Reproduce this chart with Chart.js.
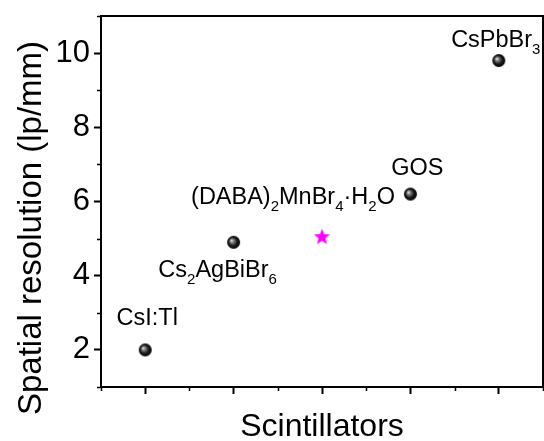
<!DOCTYPE html>
<html>
<head>
<meta charset="utf-8">
<script src="https://cdn.jsdelivr.net/npm/chart.js@4.4.1/dist/chart.umd.min.js"></script>
<style>
  html, body { margin: 0; padding: 0; background: #fff; }
</style>
</head>
<body>
<canvas id="resolution" width="544" height="441"></canvas>
<script>
// scintillators in plotting order; "_x" marks a one-character subscript
const scintillators = ['CsI:Tl', 'Cs_2AgBiBr_6', '(DABA)_2MnBr_4·H_2O', 'GOS', 'CsPbBr_3'];
const resolution = [2.0, 4.9, 5.05, 6.2, 9.8];
const thisWorkIndex = 2;

const yTicks = [2, 4, 6, 8, 10];
const yMinorTicks = [1, 3, 5, 7, 9, 11];
const xTicks = [1, 2, 3, 4, 5];
const xMinorTicks = [0.5, 1.5, 2.5, 3.5, 4.5, 5.5];

const xTitle = 'Scintillators';
const yTitle = 'Spatial resolution (lp/mm)';

// label placement around each marker: [centre x offset, baseline y offset] in px
const labelOffsets = [[2, -25], [-16, 35], [-29, -33], [7, -19], [-3, -14]];

const FAMILY = "'Liberation Sans', Arial, sans-serif";
const mainFont = `23.5px ${FAMILY}`;
const subFont = `15px ${FAMILY}`;

// shaded black ball marker
function makeSphere(r) {
  const c = document.createElement('canvas');
  const s = Math.ceil(r * 2) + 2;
  c.width = c.height = s;
  const g = c.getContext('2d');
  const cx = s / 2, cy = s / 2;
  const grad = g.createRadialGradient(cx - r * 0.35, cy - r * 0.3, 0, cx, cy, r);
  grad.addColorStop(0, '#f2f2f2');
  grad.addColorStop(0.3, '#7a7a7a');
  grad.addColorStop(0.65, '#1a1a1a');
  grad.addColorStop(1, '#000');
  g.fillStyle = grad;
  g.beginPath();
  g.arc(cx, cy, r, 0, Math.PI * 2);
  g.fill();
  return c;
}

// filled five-point star
function makeStar(outer, inner, color) {
  const c = document.createElement('canvas');
  const s = Math.ceil(outer * 2) + 2;
  c.width = c.height = s;
  const g = c.getContext('2d');
  g.fillStyle = color;
  g.beginPath();
  for (let k = 0; k < 10; k++) {
    const rad = k % 2 ? inner : outer;
    const a = -Math.PI / 2 + k * Math.PI / 5;
    const px = s / 2 + rad * Math.cos(a), py = s / 2 + 0.5 + rad * Math.sin(a);
    k ? g.lineTo(px, py) : g.moveTo(px, py);
  }
  g.closePath();
  g.fill();
  return c;
}

function splitSub(str) {
  const parts = [];
  let buf = '';
  for (let i = 0; i < str.length; i++) {
    if (str[i] === '_' && i + 1 < str.length) {
      if (buf) parts.push({ t: buf, sub: false });
      parts.push({ t: str[i + 1], sub: true });
      buf = '';
      i++;
    } else {
      buf += str[i];
    }
  }
  if (buf) parts.push({ t: buf, sub: false });
  return parts;
}

const points = scintillators.map((name, i) => ({ x: i + 1, y: resolution[i] }));

const richLabels = {
  id: 'richLabels',
  afterDatasetsDraw(chart) {
    const { ctx, scales: { x, y } } = chart;
    ctx.save();
    ctx.fillStyle = '#000';
    ctx.textBaseline = 'alphabetic';
    ctx.textAlign = 'left';
    scintillators.forEach((name, i) => {
      const parts = splitSub(name);
      let w = 0;
      parts.forEach(p => {
        ctx.font = p.sub ? subFont : mainFont;
        p.w = ctx.measureText(p.t).width;
        w += p.w;
      });
      let px = x.getPixelForValue(i + 1) + labelOffsets[i][0] - w / 2;
      const py = y.getPixelForValue(resolution[i]) + labelOffsets[i][1];
      parts.forEach(p => {
        ctx.font = p.sub ? subFont : mainFont;
        ctx.fillText(p.t, px, py + (p.sub ? 7 : 0));
        px += p.w;
      });
    });
    ctx.restore();
  }
};

// box frame, short minor ticks and the two axis titles
const frame = {
  id: 'frame',
  afterDraw(chart) {
    const { ctx, chartArea: a, scales: { x, y } } = chart;
    ctx.save();
    ctx.strokeStyle = '#000';
    ctx.lineWidth = 2;
    ctx.strokeRect(a.left, a.top, a.right - a.left, a.bottom - a.top);
    ctx.lineWidth = 1.5;
    ctx.beginPath();
    yMinorTicks.forEach(v => {
      const py = Math.round(y.getPixelForValue(v)) + 0.5;
      ctx.moveTo(a.left, py);
      ctx.lineTo(a.left - 4, py);
    });
    xMinorTicks.forEach(v => {
      const px = Math.round(x.getPixelForValue(v)) + 0.5;
      ctx.moveTo(px, a.bottom);
      ctx.lineTo(px, a.bottom + 4);
    });
    ctx.stroke();

    ctx.fillStyle = '#000';
    ctx.textAlign = 'center';
    ctx.textBaseline = 'alphabetic';
    ctx.font = `32px ${FAMILY}`;
    ctx.fillText(xTitle, (a.left + a.right) / 2, 436);
    ctx.translate(41, 228);
    ctx.rotate(-Math.PI / 2);
    ctx.font = `33px ${FAMILY}`;
    ctx.fillText(yTitle, 0, 0);
    ctx.restore();
  }
};

new Chart(document.getElementById('resolution'), {
  type: 'scatter',
  data: {
    datasets: [
      {
        label: 'Reported',
        data: points.filter((p, i) => i !== thisWorkIndex),
        pointStyle: makeSphere(6.5),
        pointRadius: 7
      },
      {
        label: 'This work',
        data: [points[thisWorkIndex]],
        pointStyle: makeStar(8.5, 3.6, '#ff00ff'),
        pointRadius: 8
      }
    ]
  },
  options: {
    responsive: false,
    animation: false,
    clip: false,
    layout: { autoPadding: false, padding: { top: 16, right: 1, left: 0, bottom: 0 } },
    plugins: { legend: { display: false }, tooltip: { enabled: false } },
    scales: {
      x: {
        type: 'linear',
        min: 0.5,
        max: 5.5,
        afterBuildTicks: s => { s.ticks = xTicks.map(v => ({ value: v })); },
        afterFit: s => {
          s.height = 54;
          s.paddingLeft = s.paddingRight = 0;
        },
        border: { display: false },
        grid: { drawOnChartArea: false, drawTicks: true, tickLength: 7, tickWidth: 2, tickColor: '#000' },
        ticks: { display: false }
      },
      y: {
        min: 1,
        max: 11,
        afterBuildTicks: s => { s.ticks = yTicks.map(v => ({ value: v })); },
        afterFit: s => {
          s.width = 101;
          s.paddingTop = s.paddingBottom = 0;
        },
        border: { display: false },
        grid: { drawOnChartArea: false, drawTicks: true, tickLength: 7, tickWidth: 2, tickColor: '#000' },
        ticks: { color: '#000', font: { family: FAMILY, size: 31 }, padding: 4 }
      }
    }
  },
  plugins: [richLabels, frame]
});
</script>
</body>
</html>
